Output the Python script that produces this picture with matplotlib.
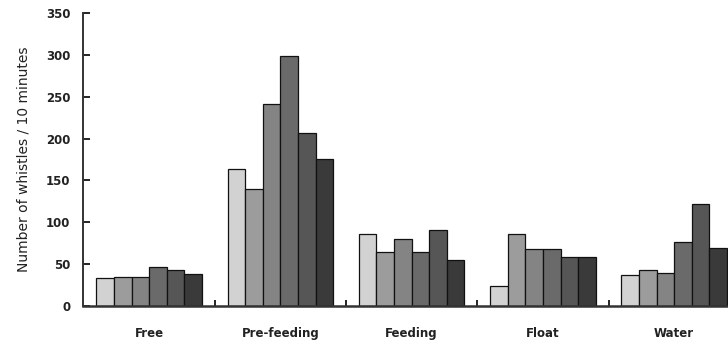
import numpy as np
from matplotlib import pyplot as plt

# whistle counts per condition, six recording sessions each
categories = ["Free", "Pre-feeding", "Feeding", "Float", "Water"]
s1 = [34, 164, 86, 24, 37]
s2 = [35, 140, 65, 86, 43]
s3 = [35, 241, 80, 68, 40]
s4 = [47, 298, 65, 68, 77]
s5 = [43, 206, 91, 58, 122]
s6 = [38, 176, 55, 59, 69]
series = [s1, s2, s3, s4, s5, s6]
shades = ["#d2d2d2", "#9c9c9c", "#848484", "#6a6a6a", "#565656", "#3a3a3a"]

plt.rcParams["font.family"] = ["DejaVu Sans"]

fig = plt.figure(figsize=(7.28, 3.47), dpi=100)
ax = fig.add_axes([0.114, 0.118, 0.886, 0.845])

x = np.arange(len(categories))
w = 0.134
for i, vals in enumerate(series):
    ax.bar(x - 2.5 * w + i * w, vals, width=w, color=shades[i],
           edgecolor="#111111", linewidth=0.9)

ax.set_xlim(-0.504, 4.41)
ax.set_ylim(0, 350)
ax.set_yticks(range(0, 351, 50))
ax.set_xticks(x)
ax.set_xticklabels(categories, fontsize=8.5, fontweight="bold", color="#222222")
ax.set_xticks(x[:-1] + 0.5, minor=True)
ax.tick_params(axis="x", which="major", length=0, pad=15)
ax.tick_params(axis="x", which="minor", direction="in", length=4, width=1.2)
ax.tick_params(axis="y", direction="in", length=5, width=1.2, pad=9,
               labelsize=8.5, labelcolor="#222222")
for lab in ax.get_yticklabels():
    lab.set_fontweight("bold")

ax.set_ylabel("Number of whistles / 10 minutes", fontsize=10, color="#222222",
              labelpad=11)
ax.spines["top"].set_visible(False)
ax.spines["right"].set_visible(False)
ax.spines["left"].set_linewidth(1.4)
ax.spines["bottom"].set_linewidth(1.8)
ax.spines["left"].set_color("#333333")
ax.spines["bottom"].set_color("#333333")

fig.savefig("out.png", dpi=100)
